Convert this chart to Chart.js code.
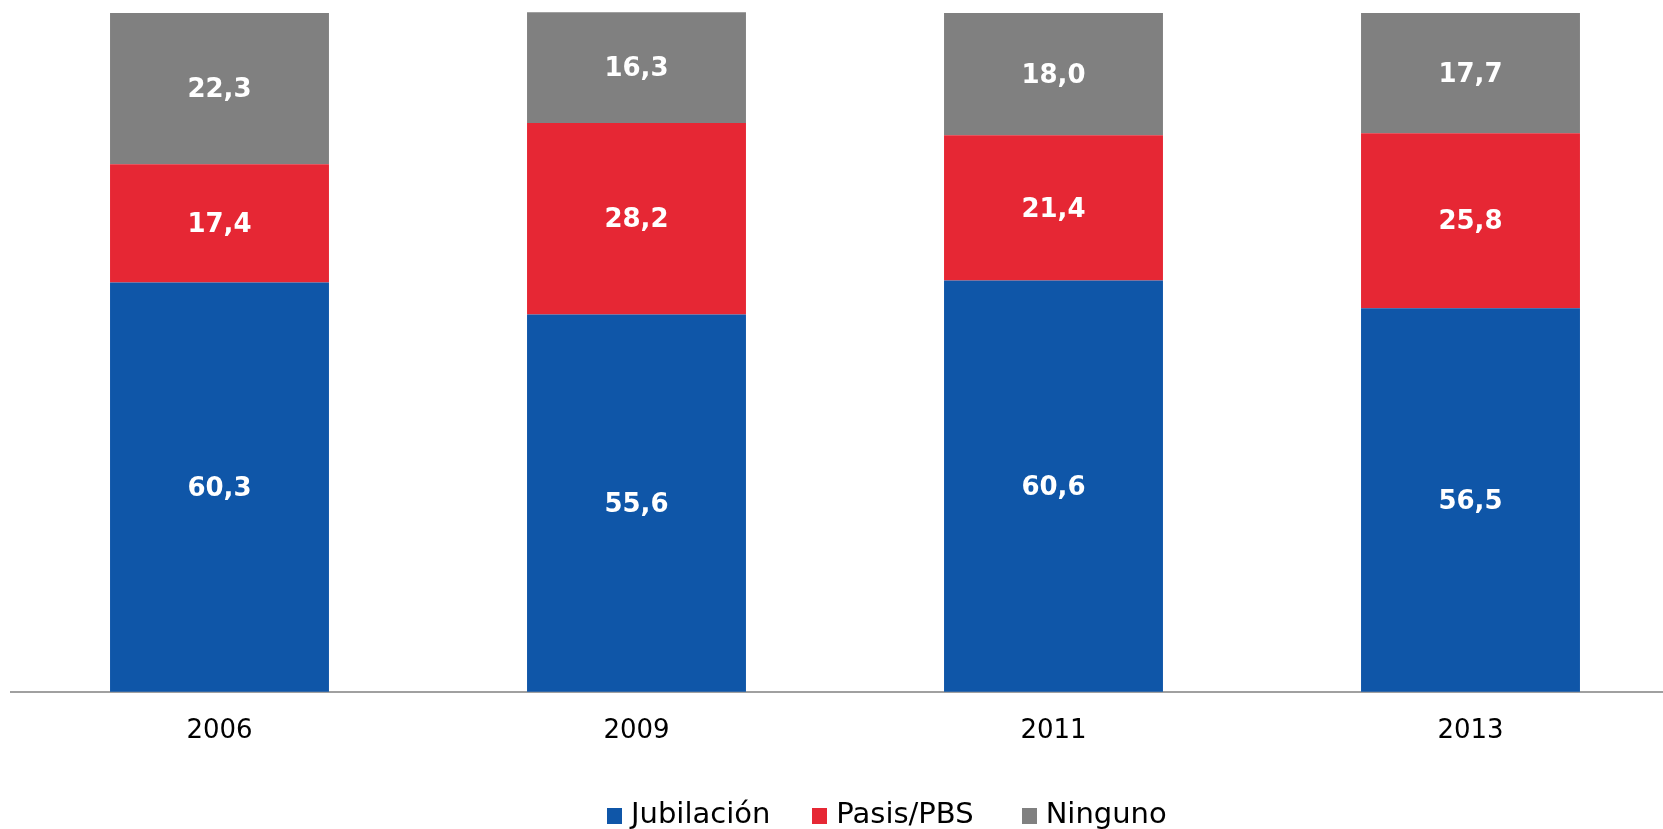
<!DOCTYPE html>
<html>
<head>
<meta charset="utf-8">
<script src="https://cdn.jsdelivr.net/npm/chart.js@4/dist/chart.umd.min.js"></script>
<style>
  html, body { margin: 0; padding: 0; background: #fff; overflow: hidden; }
  #wrap { position: relative; width: 1679px; height: 829px; }
  #legend {
    position: absolute; left: 607px; top: 796px;
    font-family: "DejaVu Sans"; font-size: 29px; color: #000;
    white-space: nowrap; line-height: normal;
  }
  #legend .item { display: inline-block; margin-right: 42px; }
  #legend .item:nth-child(2) { margin-right: 48px; }
  #legend .box {
    display: inline-block; width: 15px; height: 16px;
    margin-right: 9px; vertical-align: -1px;
  }
</style>
</head>
<body>
<div id="wrap">
  <canvas id="barChart"></canvas>
  <div id="legend"></div>
</div>
<script>
// data
const years = ["2006", "2009", "2011", "2013"];
const jubilacion = [60.3, 55.6, 60.6, 56.5];
const pasis = [17.4, 28.2, 21.4, 25.8];
const ninguno = [22.3, 16.3, 18.0, 17.7];

const seriesNames = ["Jubilación", "Pasis/PBS", "Ninguno"];
const seriesColors = ["#0f56a8", "#e62734", "#808080"];

/* ===================== LABELS IN BARS ===================== */
const barLabels = {
    id: "barLabels",
    afterDatasetsDraw(chart) {
        const ctx = chart.ctx;
        ctx.save();
        ctx.font = "bold 26px 'DejaVu Sans'";
        ctx.fillStyle = "#ffffff";
        ctx.textAlign = "center";
        ctx.textBaseline = "middle";
        chart.data.datasets.forEach((ds, i) => {
            const meta = chart.getDatasetMeta(i);
            meta.data.forEach((bar, j) => {
                const v = ds.data[j];
                const mid = (bar.y + bar.base) / 2 + 2;
                ctx.fillText(v.toFixed(1).replace(".", ","), bar.x, mid);
            });
        });
        ctx.restore();
    }
};

/* ===================== LEGEND ===================== */
function renderLegend() {
    const legend = document.getElementById("legend");
    legend.innerHTML = "";
    seriesNames.forEach((name, i) => {
        const item = document.createElement("span");
        item.className = "item";
        const box = document.createElement("span");
        box.className = "box";
        box.style.background = seriesColors[i];
        item.appendChild(box);
        item.appendChild(document.createTextNode(name));
        legend.appendChild(item);
    });
}

const ctx = document.getElementById("barChart").getContext("2d");
new Chart(ctx, {
    type: "bar",
    data: {
        labels: years,
        datasets: [
            { label: seriesNames[0], data: jubilacion, backgroundColor: seriesColors[0] },
            { label: seriesNames[1], data: pasis, backgroundColor: seriesColors[1] },
            { label: seriesNames[2], data: ninguno, backgroundColor: seriesColors[2] }
        ]
    },
    options: {
        responsive: true,
        maintainAspectRatio: false,
        animation: false,
        layout: { padding: { left: 11, top: 13, right: 0, bottom: 66 } },
        datasets: {
            bar: { categoryPercentage: 0.525, barPercentage: 1.0, clip: false }
        },
        plugins: {
            legend: { display: false },
            tooltip: { enabled: false }
        },
        scales: {
            x: {
                stacked: true,
                grid: { display: false },
                border: { display: true, color: "#a0a0a0", width: 2 },
                ticks: {
                    color: "#000",
                    padding: 16,
                    font: { family: "'DejaVu Sans'", size: 26 }
                }
            },
            y: {
                stacked: true,
                display: false,
                min: 0,
                max: 100
            }
        }
    },
    plugins: [barLabels]
});
renderLegend();
</script>
</body>
</html>
